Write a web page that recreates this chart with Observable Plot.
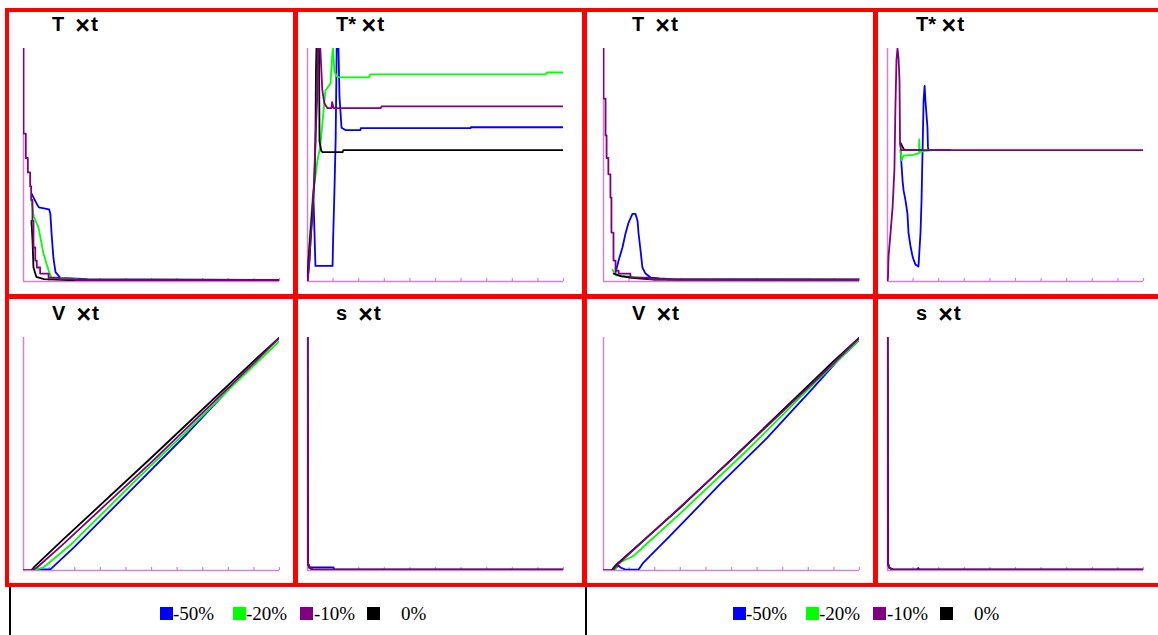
<!DOCTYPE html>
<html><head><meta charset="utf-8">
<script src="https://cdn.jsdelivr.net/npm/d3@7"></script>
<script src="https://cdn.jsdelivr.net/npm/@observablehq/plot@0.6"></script>
<style>
html,body{margin:0;padding:0;background:#fff;}
#root{position:relative;width:1158px;height:635px;overflow:hidden;background:#fff;}
.band{position:absolute;background:#ff0000;}
.vline{position:absolute;background:#000;}
.title{position:absolute;font-family:"Liberation Sans",Arial,sans-serif;font-weight:bold;font-size:20px;white-space:pre;line-height:20px;color:#000;}
.title .x{font-size:25px;position:relative;top:3px;line-height:0;}
.title .t{font-size:21px;margin-left:1px;line-height:0;}
.leg{position:absolute;font-family:"Liberation Serif","Times New Roman",serif;font-size:19px;line-height:19px;white-space:pre;color:#000;}
.sw{position:absolute;width:13px;height:13px;}
</style></head>
<body><div id="root"></div>
<script>
// ---------- data ----------
const seriesNames = ["-50%", "-20%", "-10%", "0%"];
const seriesColors = ["#0000ff", "#00ff00", "#800080", "#000000"];
const tTicks = [10, 20, 30, 40, 50, 60, 70, 80, 90, 100];
const panelVars = ["T  ", "T* ", "V  ", "s  "];

// left half: T x t  ([t, value])
const TL_blue   = [[3.1,37.8],[5.1,33.5],[6,31.8],[10,31],[10.5,29],[11,20],[11.7,10],[12.5,4],[14.5,1.5],[25,1],[100,0.6]];
const TL_green  = [[3.1,34.8],[4,28],[5.9,23],[7.8,12],[9.8,4.7],[10.9,1.7],[21,0.9],[100,0.6]];
const TL_black  = [[3.1,26],[3.5,18],[3.9,6],[5,2],[8,1],[18,0.6],[100,0.6]];
const TL_purple = [[0,100],[0,63.5],[0.9,53],[1.7,46.8],[2.6,40.8],[3.0,35],[3.5,26],[3.9,14.6],[4.6,9],[5.2,6],[6.5,3.4],[9.8,1.7],[14,1],[20,0.6],[100,0.6]];

// left half: T* x t
const TSL_blue   = [[0,0],[0.8,9],[1.6,26],[2.3,37],[2.7,22],[3.1,6.7],[9.8,6.7],[10,18],[10.5,38],[11,61],[11.4,100],[12.1,100],[12.5,79],[13.3,66],[14.8,65],[20.7,65],[20.8,65.8],[63.7,65.8],[63.8,66.2],[100,66.2]];
const TSL_green  = [[0,0],[0.5,10],[0.8,18],[2,36],[3.9,52],[5,58],[7,82],[9,85],[9.8,99],[10,100],[10.5,90],[11.5,88],[12.5,87.6],[24,87.6],[24.5,88.9],[93,88.9],[93.5,89.7],[100,89.7]];
const TSL_black  = [[0,0],[0.4,10],[1.2,21],[2.7,43],[3.1,60],[3.3,90],[3.5,100],[4.5,100],[4.7,60],[5.4,56],[6,55.5],[13.7,55.5],[14,56.4],[100,56.4]];
const TSL_purple = [[0,0],[0.5,6],[1.2,18],[2,29],[2.7,47],[3.1,61],[3.9,82],[4,100],[5,100],[5.8,82],[6.6,76.5],[7.8,74.4],[9.4,74.4],[9.6,77],[10.2,74.4],[28.5,74.4],[29,75.2],[100,75.2]];

// left half: V x t
const VL_blue   = [[5.5,0.5],[10.5,0.5],[19.7,9.9],[43,35.6],[64,58.8],[81.6,79.4]];
const VL_green  = [[5,0.5],[6.6,0.9],[8,1.5],[19,11.6],[43,37.8],[64,60],[81,78.5],[100,98.5]];
const VL_black  = [[0,0],[3,0],[4,1.3],[15,12.8],[50,48.5],[90,90],[100,100]];
const VL_purple = [[0,0],[3.5,0],[5.5,1.5],[15,10.8],[50,46.5],[90,89],[100,100]];

// left half: s x t
const SL_blue   = [[0,100],[0.2,3],[1,1.3],[10.2,1.3],[10.5,0.4],[100,0.4]];
const SL_green  = [[0,100],[0.2,3],[0.6,1.3],[2,0.4],[100,0.4]];
const SL_black  = [[0,100],[0.2,3],[0.6,1.3],[2,0.4],[100,0.4]];
const SL_purple = [[0,100],[0.2,3],[0.6,1.3],[2,0.4],[100,0.4]];

// right half: T x t
const TR_blue   = [[4.7,3.9],[5.9,9],[7.4,14.6],[8.6,20.6],[9.8,25.3],[11.3,29],[12.5,29],[13.3,26],[13.7,20.6],[14.5,13],[15.2,6],[16.4,3.4],[18.4,1.7],[22,1.3],[28,0.9],[100,0.8]];
const TR_green  = [[3.5,5],[5,2.6],[10,2.2],[13.7,1.7],[20,0.9],[100,0.8]];
const TR_black  = [[4,3.4],[7,2.2],[12,1.5],[20,0.8],[100,0.8]];
const TR_purple = [[0,100],[0,78.5],[0.8,62.7],[1.2,53],[1.9,46],[2.7,36],[3.1,21],[3.9,9],[4.7,4.7],[5.9,3.4],[10.5,1.7],[18,1],[25,0.8],[100,0.8]];

// right half: T* x t
const TSR_blue   = [[5.1,56.4],[5.9,43],[6.3,39],[7,35],[7.8,29],[8.2,21],[9,15],[9.8,10.7],[10.2,9.4],[10.9,7.3],[12.1,6.4],[12.9,21],[13.3,35],[13.7,56.4],[14.1,77.8],[14.5,84],[14.8,77.8],[15.6,66.2],[15.8,57.7],[16,56.4],[24.6,56.4]];
const TSR_green  = [[5.1,56.4],[5.5,52],[6.3,54],[9.8,54.3],[12.3,55],[12.4,61],[12.6,55.5],[14,56],[18,56.4]];
const TSR_black  = [[5.1,59.5],[5.9,57.7],[6.6,56.4],[13,56.4]];
const TSR_purple = [[0,0],[0.2,2],[0.4,10.7],[1.2,21],[2,32],[2.7,48],[3.1,75],[3.5,95],[3.9,100],[4.3,96],[4.7,86],[4.9,59],[5.3,56.4],[100,56.4]];

// right half: V x t
const VR_blue   = [[3.5,0],[5.9,2.1],[6.6,1.3],[8.6,0.4],[13.7,0.4],[15.6,3.4],[25.4,14.2],[36.7,27],[45.7,37.3],[64,57],[82,78.5],[91.4,90],[100,99]];
const VR_green  = [[4.5,0],[5.5,3],[10.5,5.6],[12,6.5],[17,11.6],[30,24.5],[56,51.5],[82,80],[91.4,90],[100,99]];
const VR_black  = [[0,0],[3,0],[5,2.5],[30,27],[56,54],[90,90],[100,100]];
const VR_purple = [[0,0],[3.5,0],[5.5,2.5],[50,47.5],[90,89],[100,100]];

// right half: s x t
const SR_blue   = [[0,100],[0.2,3],[0.6,1.3],[2,0.4],[11.5,0.4],[12,1.1],[12.5,0.4],[100,0.4]];
const SR_green  = [[0,100],[0.2,3],[0.6,1.3],[2,0.4],[100,0.4]];
const SR_black  = [[0,100],[0.2,3],[0.6,1.3],[2,0.4],[100,0.4]];
const SR_purple = [[0,100],[0.2,3],[0.6,1.3],[2,0.4],[100,0.4]];

// ---------- layout ----------
const root = document.getElementById("root");
const AXIS = "#d083d0";
const PW = 256, PH = 233, M = 10;

function div(cls, x, y, w, h) {
  const d = document.createElement("div");
  d.className = cls;
  d.style.left = x + "px"; d.style.top = y + "px";
  if (w != null) d.style.width = w + "px";
  if (h != null) d.style.height = h + "px";
  root.appendChild(d);
  return d;
}

// red cell borders
[[5,8,1153,4],[5,294,1153,5],[5,583,1153,4]].forEach(b => div("band", ...b));
[[5,8,4,579],[293,8,5,579],[582,8,5,579],[873,8,5,579]].forEach(b => div("band", ...b));
// black legend-row separators
[[8.5,587,2,48],[584.5,587,2,48]].forEach(b => div("vline", ...b));

function panel(x0, y0, v, lines) {
  const svg = Plot.plot({
    width: PW + 2 * M, height: PH + 2 * M, margin: M,
    style: {background: "transparent", overflow: "visible"},
    x: {domain: [0, 100], axis: null},
    y: {domain: [0, 100], axis: null},
    marks: [
      Plot.ruleY([0], {stroke: AXIS, strokeWidth: 1.5}),
      Plot.ruleX([0], {stroke: AXIS, strokeWidth: 1.5}),
      Plot.tickX(tTicks, {x: d => d, stroke: AXIS, strokeWidth: 1.2, insetTop: PH - 3}),
      ...lines.map(([data, si, curve]) => Plot.line(data, {
        x: d => d[0], y: d => d[1], stroke: seriesColors[si],
        strokeWidth: 1.8, curve: curve || "linear", clip: true
      }))
    ]
  });
  svg.style.position = "absolute";
  svg.style.left = (x0 - M) + "px";
  svg.style.top = (y0 - M) + "px";
  root.appendChild(svg);
  const t = div("title", x0 + 29, y0 - 34);
  const a = document.createElement("span"); a.textContent = v;
  const b = document.createElement("span"); b.className = "x"; b.textContent = "\u00d7";
  const c = document.createElement("span"); c.className = "t"; c.textContent = "t";
  t.append(a, b, c);
}

const topY = 48, botY = 337;
panel(23, topY, panelVars[0], [[TL_blue,0],[TL_green,1],[TL_black,3],[TL_purple,2,"step-after"]]);
panel(307, topY, panelVars[1], [[TSL_blue,0],[TSL_green,1],[TSL_black,3],[TSL_purple,2]]);
panel(603, topY, panelVars[0], [[TR_blue,0],[TR_green,1],[TR_black,3],[TR_purple,2,"step-after"]]);
panel(887, topY, panelVars[1], [[TSR_blue,0],[TSR_green,1],[TSR_black,3],[TSR_purple,2]]);
panel(23, botY, panelVars[2], [[VL_blue,0],[VL_green,1],[VL_black,3],[VL_purple,2]]);
panel(307, botY, panelVars[3], [[SL_blue,0],[SL_green,1],[SL_black,3],[SL_purple,2]]);
panel(603, botY, panelVars[2], [[VR_blue,0],[VR_green,1],[VR_black,3],[VR_purple,2]]);
panel(887, botY, panelVars[3], [[SR_blue,0],[SR_green,1],[SR_black,3],[SR_purple,2]]);

// legends
const legendStarts = [160, 733];
const swatchOffsets = [0, 73, 140, 207];
const textOffsets = [13, 13, 14, 34];
legendStarts.forEach(x0 => {
  seriesNames.forEach((name, i) => {
    const s = div("sw", x0 + swatchOffsets[i], 607, 13, 13);
    s.style.background = seriesColors[i];
    const l = div("leg", x0 + swatchOffsets[i] + textOffsets[i], 604);
    l.textContent = name;
  });
});
</script>
</body></html>
